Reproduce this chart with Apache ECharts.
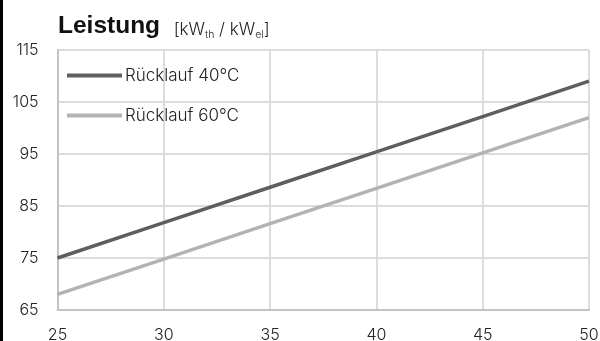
<!DOCTYPE html>
<html><head><meta charset="utf-8">
<script src="https://cdn.jsdelivr.net/npm/echarts@6/dist/echarts.min.js"></script>
<style>html,body{margin:0;padding:0;background:#fff}#c{width:600px;height:341px}</style>
</head><body><div id="c"></div>
<script>
const xValues = [25, 30, 35, 40, 45, 50];
const seriesNames = ['Rücklauf 40°C', 'Rücklauf 60°C'];
const ruecklauf40 = [75, 81.8, 88.6, 95.4, 102.2, 109];
const ruecklauf60 = [68, 74.8, 81.6, 88.4, 95.2, 102];
const yTicks = [65, 75, 85, 95, 105, 115];

const chart = echarts.init(document.getElementById('c'), null, {renderer: 'canvas'});
const font = 'Inter, "DejaVu Sans", sans-serif';
const boldFont = '"Liberation Sans", Arial, sans-serif';
chart.setOption({
  animation: false,
  textStyle: {fontFamily: font},
  title: {
    text: '{b|Leistung  }{u|[kW}{s|th}{u| / kW}{s|el}{u|]}',
    left: 53, top: 9,
    textStyle: {
      rich: {
        b: {fontSize: 24.5, fontWeight: 'bold', color: '#111', fontFamily: boldFont},
        u: {fontSize: 17, fontWeight: 300, color: '#222', fontFamily: font, verticalAlign: 'bottom', padding: [0,0,1,0]},
        s: {fontSize: 10.5, fontWeight: 300, color: '#222', fontFamily: font, verticalAlign: 'bottom', padding: [0,0,-1,0]}
      }
    }
  },
  legend: {
    orient: 'vertical', left: 62, top: 62,
    itemWidth: 55, itemHeight: 4, itemGap: 23,
    icon: 'rect',
    textStyle: {fontSize: 17, fontWeight: 300, color: '#222', padding: [0,0,0,-2]},
    data: seriesNames
  },
  grid: {left: 57.5, right: 11, top: 50, bottom: 31, containLabel: false, outerBoundsMode: 'none'},
  xAxis: {
    type: 'value', min: 25, max: 50, interval: 5,
    axisLine: {show: true, lineStyle: {color: '#c4c4c4', width: 2}},
    axisTick: {show: false},
    axisLabel: {fontSize: 16, fontWeight: 300, color: '#222', margin: 17},
    splitLine: {show: true, lineStyle: {color: '#dcdcdc', width: 2}}
  },
  yAxis: {
    type: 'value', min: 65, max: 115, interval: 10,
    axisLine: {show: true, lineStyle: {color: '#c4c4c4', width: 2}},
    axisTick: {show: false},
    axisLabel: {fontSize: 16, fontWeight: 300, color: '#222', margin: 19},
    splitLine: {show: true, lineStyle: {color: '#dcdcdc', width: 2}}
  },
  graphic: [
    {type: 'rect', left: 0, top: 0, shape: {width: 3, height: 341}, style: {fill: '#000'}},
    {type: 'line', shape: {x1: 589, y1: 50, x2: 589, y2: 310}, style: {stroke: '#c4c4c4', lineWidth: 2}}
  ],
  series: [
    {name: seriesNames[0], type: 'line', data: xValues.map((x,i)=>[x, ruecklauf40[i]]),
     showSymbol: false, lineStyle: {color: '#5e5e5e', width: 3.5}, itemStyle: {color: '#5e5e5e'}},
    {name: seriesNames[1], type: 'line', data: xValues.map((x,i)=>[x, ruecklauf60[i]]),
     showSymbol: false, lineStyle: {color: '#b3b3b3', width: 3.5}, itemStyle: {color: '#b3b3b3'}}
  ]
});
</script></body></html>
